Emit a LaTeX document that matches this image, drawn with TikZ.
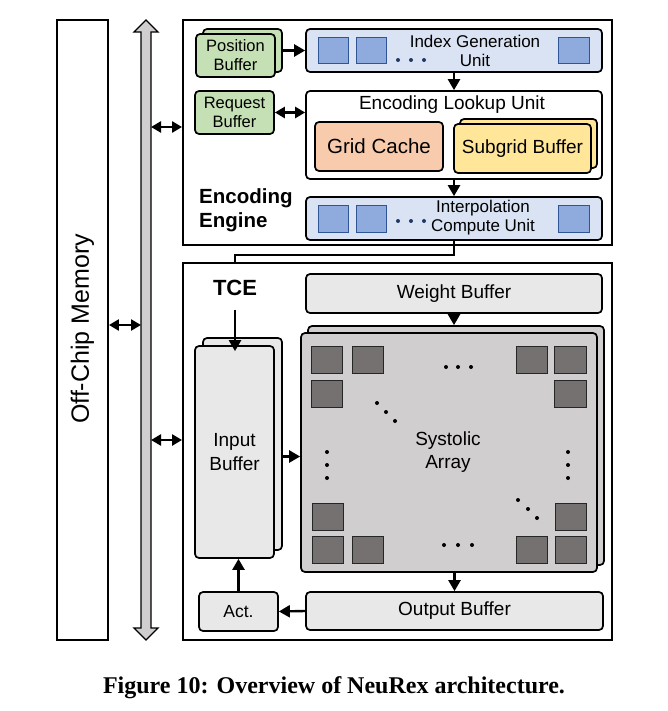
\documentclass[tikz,border=0pt]{standalone}
\usepackage{fontspec}
\setmainfont{Liberation Sans}
\newfontfamily\capfont{Liberation Serif}
\usepackage{tikz}
\usetikzlibrary{arrows.meta,positioning}
\definecolor{mygreen}{HTML}{C5E0B4}
\definecolor{myblue}{HTML}{DAE3F3}
\definecolor{mysquare}{HTML}{8FAADC}
\definecolor{mysqline}{HTML}{2F5597}
\definecolor{mydotblue}{HTML}{203864}
\definecolor{myorange}{HTML}{F8CBAD}
\definecolor{myyellow}{HTML}{FFE699}
\definecolor{mygray}{HTML}{E8E8E8}
\definecolor{mysys}{HTML}{D0CECE}
\definecolor{mydark}{HTML}{767171}

\begin{document}
\begin{tikzpicture}[x=1pt,y=-1pt,
  frame/.style={draw, line width=1.9pt, inner sep=0pt},
  box/.style={draw, line width=1.7pt, rounded corners=4pt, inner sep=0pt, align=center},
  arr/.style={line width=2.4pt, -{Triangle[length=11pt,width=12pt]}},
  dbl/.style={line width=2.4pt, {Triangle[length=10pt,width=11pt]}-{Triangle[length=10pt,width=11pt]}},
  sq/.style={draw=mysqline, fill=mysquare, line width=1pt},
  dsq/.style={draw=black!85, fill=mydark, line width=1pt},
  txt/.style={inner sep=0pt, align=center},
  fa/.style={font=\fontsize{16.5}{19}\selectfont},
  fb/.style={font=\fontsize{17}{19}\selectfont},
  fc/.style={font=\fontsize{19}{23.5}\selectfont}]

\useasboundingbox (0,0) rectangle (667,711);

\node[frame, minimum width=51pt, minimum height=620pt] (mem) at (82.5,330) {};
\node[txt, rotate=90, font=\fontsize{25}{28}\selectfont] (memtext) at (82.5,329) {Off-Chip Memory};

\draw[line width=1.3pt, fill=mysys] (146,20) -- (158,32) -- (151,32) -- (151,628) -- (158,628) -- (146,640)
  -- (134,628) -- (141,628) -- (141,32) -- (134,32) -- cycle;

\node[frame, minimum width=429pt, minimum height=225pt] (enc) at (397.5,132.5) {};
\node[frame, minimum width=429pt, minimum height=377pt] (tce) at (397.5,451.5) {};

\coordinate (busA) at (141,325);
\coordinate (busB) at (151,127);
\coordinate (busC) at (151,440);
\draw[dbl] (mem.east |- busA) -- (busA);
\draw[dbl] (busB) -- (busB -| enc.west);
\draw[dbl] (busC) -- (busC -| tce.west);

% encoding engine
\node[box, fill=mygreen, minimum width=79pt, minimum height=43pt] (posback) at (242.5,50.5) {};
\node[box, fill=mygreen, minimum width=79pt, minimum height=43pt, fa] (pos) at (235.5,55.5) {Position\\Buffer};
\node[box, fill=mygreen, minimum width=79pt, minimum height=43pt, fa] (req) at (234.5,112.5) {Request\\Buffer};

\node[box, fill=myblue, minimum width=296pt, minimum height=43pt] (idx) at (454,50.5) {};
\node[txt, fb] (idxtext) at (475,51) {Index Generation\\Unit};
\draw[sq] (318,38) rectangle (348,64);
\draw[sq] (356,38) rectangle (386,64);
\draw[sq] (558,38) rectangle (589,64);
\fill[mydotblue] (398,60) circle (2pt);
\fill[mydotblue] (411,60) circle (2pt);
\fill[mydotblue] (424,60) circle (2pt);

\node[box, fill=white, minimum width=296pt, minimum height=88pt] (lookup) at (454,135) {};
\node[txt, fc] (lookuptext) at (452,105) {Encoding Lookup Unit};
\node[box, fill=myorange, minimum width=128pt, minimum height=49pt, font=\fontsize{20.5}{24}\selectfont] (grid) at (379,146.5) {Grid Cache};
\node[box, fill=myyellow, minimum width=137pt, minimum height=49pt] (subback) at (528.5,143.5) {};
\node[box, fill=myyellow, minimum width=137pt, minimum height=49pt, fc] (sub) at (522.5,148.5) {Subgrid Buffer};

\node[box, fill=myblue, minimum width=296pt, minimum height=43pt] (interp) at (454,218.5) {};
\node[txt, fb] (interptext) at (483,218) {Interpolation\\Compute Unit};
\draw[sq] (318,206) rectangle (348,232);
\draw[sq] (356,206) rectangle (386,232);
\draw[sq] (558,206) rectangle (589,232);
\fill[mydotblue] (398,221) circle (2pt);
\fill[mydotblue] (411,221) circle (2pt);
\fill[mydotblue] (424,221) circle (2pt);

\node[txt, anchor=west, align=left, font=\bfseries\fontsize{20.5}{24}\selectfont] (enctitle) at (199,210) {Encoding\\Engine};

\draw[arr] (posback.east) -- (idx.west);
\draw[dbl] (req.east) -- (req.east -| lookup.west);
\draw[arr] (idx.south) -- (lookup.north);
\draw[arr] (lookup.south) -- (interp.north);

% tce
\node[txt, font=\bfseries\fontsize{22}{26}\selectfont] (tcetitle) at (235,288) {TCE};
\coordinate (bend) at (235,255);
\draw[line width=2.2pt] (interp.south) |- (bend) -- (bend |- tce.north);

\node[box, fill=mygray, minimum width=296pt, minimum height=39pt, fc] (wb) at (454,293.5) {Weight Buffer};
\node[box, fill=mygray, minimum width=79pt, minimum height=212pt] (inback) at (242.5,444) {};
\node[box, fill=mygray, minimum width=79pt, minimum height=212pt, fc] (inbuf) at (234.5,452) {Input\\Buffer};
\node[box, fill=mysys, minimum width=296pt, minimum height=239pt] (sysback) at (456,445.5) {};
\node[box, fill=mysys, minimum width=296pt, minimum height=239pt] (sys) at (449,452.5) {};
\node[txt, fc] (systext) at (448,452) {Systolic\\Array};
\node[box, fill=mygray, minimum width=297pt, minimum height=38pt, fc] (ob) at (454.5,611) {Output Buffer};
\node[box, fill=mygray, minimum width=79pt, minimum height=39pt, font=\fontsize{17.5}{20}\selectfont] (act) at (238.5,611.5) {Act.};

\draw[dsq] (311,346) rectangle (342,373);
\draw[dsq] (352,346) rectangle (383,373);
\draw[dsq] (516,346) rectangle (547,373);
\draw[dsq] (554,346) rectangle (586,373);
\draw[dsq] (311,380) rectangle (342,407);
\draw[dsq] (554,380) rectangle (586,407);
\draw[dsq] (312,503) rectangle (343,530);
\draw[dsq] (555,503) rectangle (586,530);
\draw[dsq] (312,536) rectangle (343,563);
\draw[dsq] (352,536) rectangle (383,563);
\draw[dsq] (516,536) rectangle (547,563);
\draw[dsq] (555,536) rectangle (586,563);

\fill (446,367) circle (2pt);
\fill (458,367) circle (2pt);
\fill (471,367) circle (2pt);
\fill (444,545) circle (2pt);
\fill (458,545) circle (2pt);
\fill (472,545) circle (2pt);
\fill (327,452) circle (2pt);
\fill (327,465) circle (2pt);
\fill (327,478) circle (2pt);
\fill (568,452) circle (2pt);
\fill (568,465) circle (2pt);
\fill (568,478) circle (2pt);
\fill (377,403) circle (2pt);
\fill (386,412) circle (2pt);
\fill (395,421) circle (2pt);
\fill (518,500) circle (2pt);
\fill (528,509) circle (2pt);
\fill (537,518) circle (2pt);

\draw[arr] ([yshift=-14pt]tcetitle.south) -- ([yshift=-14pt]tcetitle.south |- inback.north);
\draw[arr] (wb.south) -- (wb.south |- sysback.north);
\draw[arr] ([yshift=-4pt]inback.east |- sys.center) -- ([yshift=-4pt]sys.west);
\draw[arr] (ob.north |- sys.south) -- (ob.north);
\draw[arr] (ob.west) -- (act.east);
\draw[arr] (act.north) -- (act.north |- inbuf.south);

\node[font=\capfont\bfseries\fontsize{24}{28}\selectfont] (caption) at (334,688) {Figure 10: Overview of NeuRex architecture.};

\end{tikzpicture}
\end{document}
